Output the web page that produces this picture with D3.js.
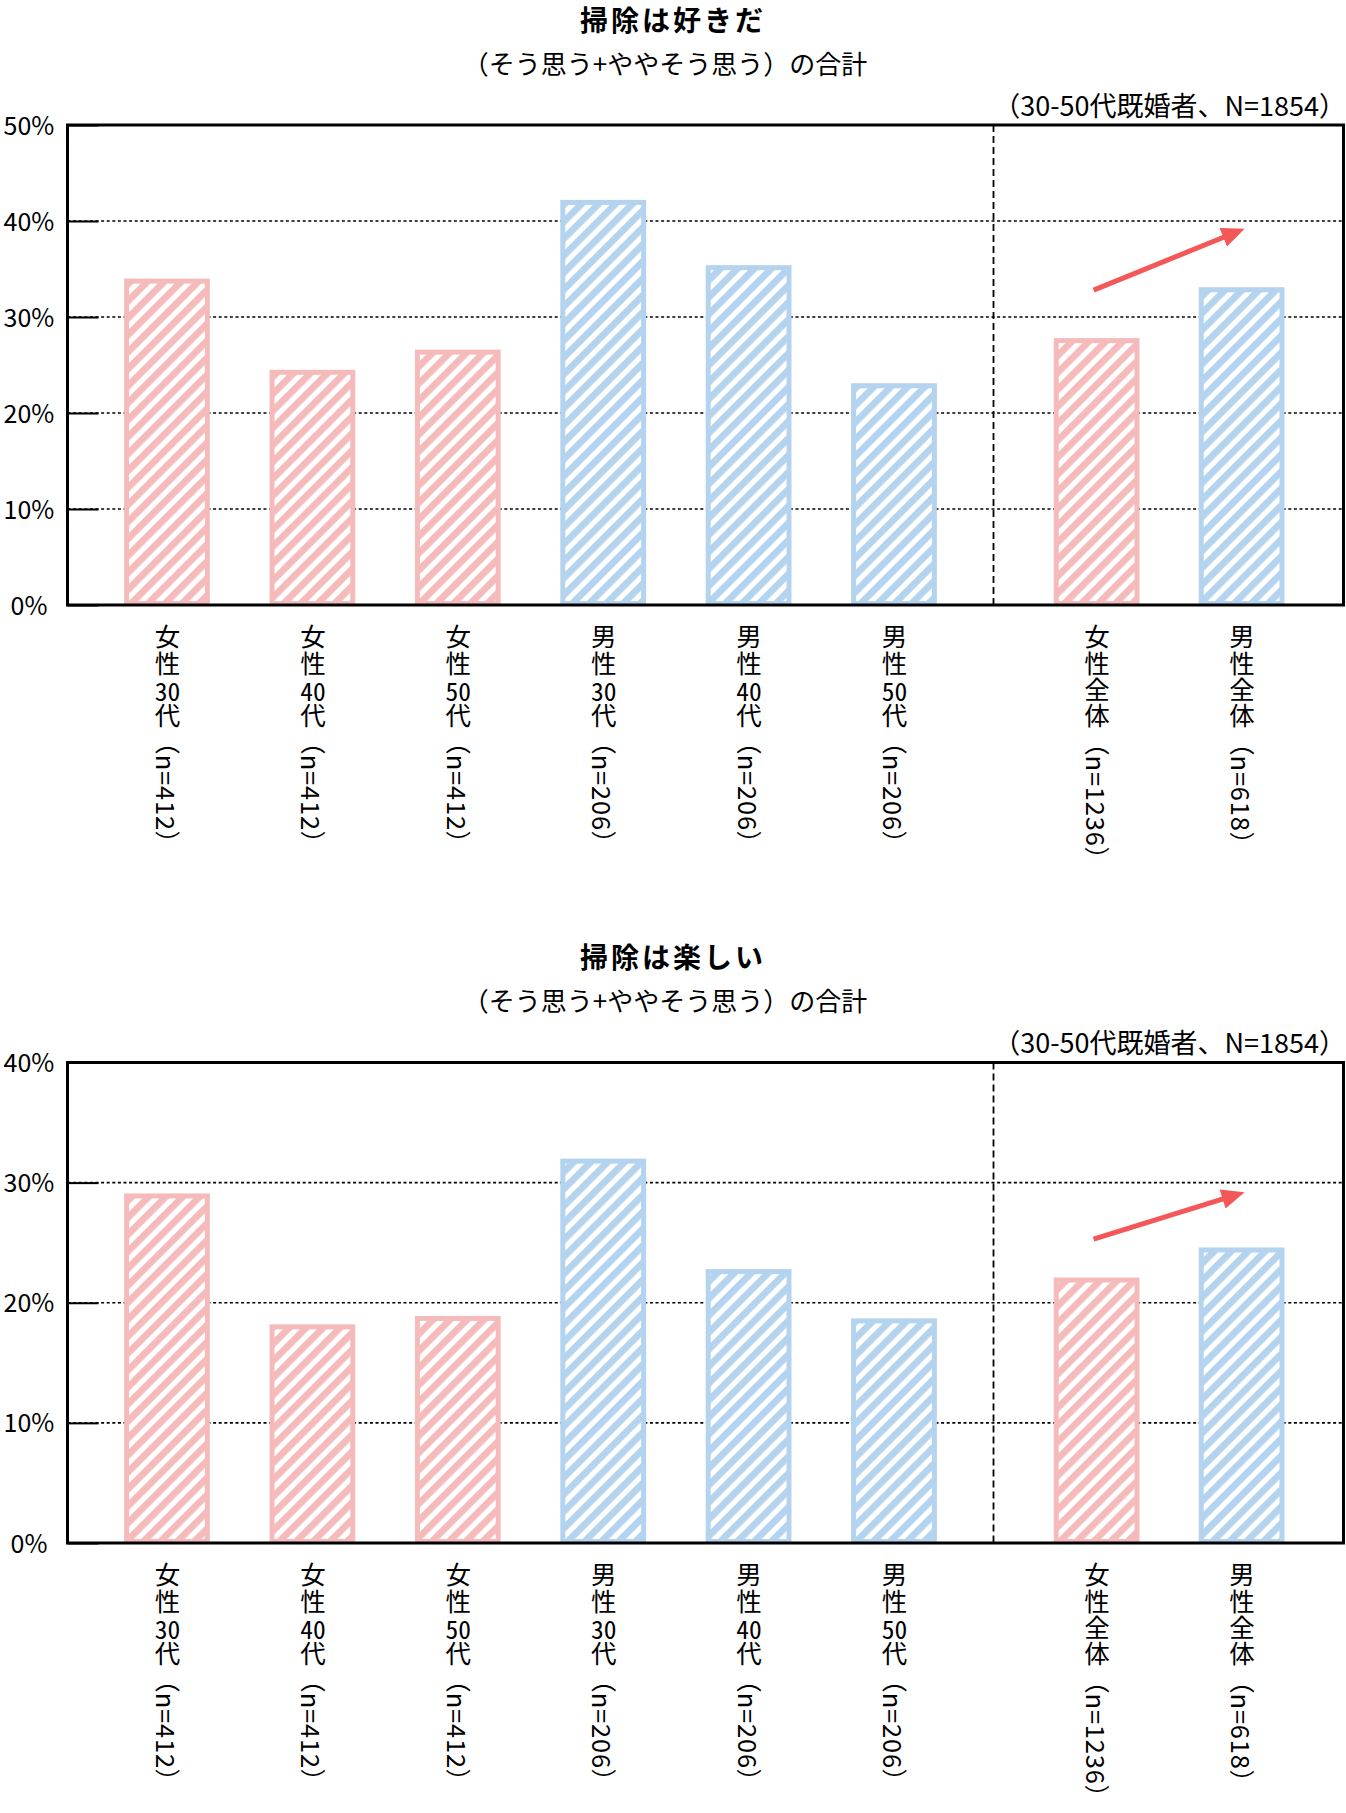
<!DOCTYPE html>
<html><head><meta charset="utf-8">
<script src="https://cdn.jsdelivr.net/npm/d3@7"></script>
<style>
body{margin:0;background:#fff;position:relative;width:1346px;height:1813px}
svg{display:block;position:absolute;left:0;top:0}
text{font-family:"Noto Sans CJK JP","Noto Sans",sans-serif;fill:#000}
.vlab{position:absolute;writing-mode:vertical-rl;font-family:"Noto Sans CJK JP","Noto Sans",sans-serif;
  font-size:25.5px;line-height:30px;width:30px;white-space:nowrap;color:#000;letter-spacing:0.8px}
.tcy{text-combine-upright:all}
</style>
</head><body>
<svg id="chart" width="1346" height="1813"></svg>
<script>
// ---------- data ----------
const categories = ["女性30代","女性40代","女性50代","男性30代","男性40代","男性50代","女性全体","男性全体"];
const sampleSizes = ["412","412","412","206","206","206","1236","618"];
const genders = ["F","F","F","M","M","M","F","M"];
const leftGroup = categories.slice(0, 6);
const rightGroup = categories.slice(6);

const likeValues  = [34.0, 24.5, 26.6, 42.2, 35.4, 23.1, 27.8, 33.1];
const enjoyValues = [29.1, 18.2, 18.9, 32.0, 22.8, 18.7, 22.1, 24.6];

const likeTicks  = [0, 10, 20, 30, 40, 50];
const enjoyTicks = [0, 10, 20, 30, 40];

const likeTitle  = "掃除は好きだ";
const enjoyTitle = "掃除は楽しい";
const subtitleText = "（そう思う+ややそう思う）の合計";
const noteText = "（30-50代既婚者、N=1854）";

// trend arrows (value units, from 女性全体 to 男性全体)
const likeArrow  = {from: ["女性全体", 32.8], to: ["男性全体", 39.2]};
const enjoyArrow = {from: ["女性全体", 25.3], to: ["男性全体", 29.2]};

// ---------- style ----------
const pink = "#F5BBBB", blue = "#B4D3EE", arrowColor = "#F45757";
const W = 1346;
const plotLeft = 67.5, plotRight = 1343.5, dividerX = 993.5;
const FONT = '"Noto Sans CJK JP","Noto Sans",sans-serif';

const svg = d3.select("#chart");
const defs = svg.append("defs");
[["hatchF", pink], ["hatchM", blue]].forEach(([id, col]) => {
  const p = defs.append("pattern").attr("id", id)
    .attr("patternUnits", "userSpaceOnUse")
    .attr("width", 12).attr("height", 12)
    .attr("patternTransform", "rotate(45)");
  p.append("rect").attr("width", 12).attr("height", 12).attr("fill", "#fff");
  p.append("rect").attr("width", 6.8).attr("height", 12).attr("fill", col);
});

const xLeft = d3.scaleBand().domain(leftGroup).range([94.3, 966.7]).paddingInner(0.41).paddingOuter(0.205);
const xRight = d3.scaleBand().domain(rightGroup).range([1024, 1314]).paddingInner(0.41).paddingOuter(0.205);
const xPos = c => leftGroup.includes(c) ? xLeft(c) : xRight(c);
const bw = xLeft.bandwidth();
const xCenter = c => xPos(c) + bw / 2;

function drawChart(cfg) {
  const g = svg.append("g");
  const y = d3.scaleLinear().domain([0, d3.max(cfg.ticks)]).range([cfg.bottom, cfg.top]);

  // titles
  g.append("text").attr("x", W / 2).attr("y", cfg.titleY)
    .attr("text-anchor", "middle").attr("dominant-baseline", "central")
    .attr("font-size", 28).attr("font-weight", "bold").attr("letter-spacing", 3)
    .text(cfg.title);
  g.append("text").attr("x", W / 2 - 8).attr("y", cfg.subtitleY)
    .attr("text-anchor", "middle").attr("dominant-baseline", "central")
    .attr("font-size", 26).text(subtitleText);
  g.append("text").attr("x", 1346).attr("y", cfg.noteY)
    .attr("text-anchor", "end").attr("dominant-baseline", "central")
    .attr("font-size", 27).text(noteText);

  // gridlines
  g.append("g").selectAll("line").data(cfg.ticks.filter(t => t > 0 && t < d3.max(cfg.ticks)))
    .join("line")
    .attr("x1", plotLeft).attr("x2", plotRight)
    .attr("y1", d => y(d)).attr("y2", d => y(d))
    .attr("stroke", "#000").attr("stroke-width", 1.7).attr("stroke-dasharray", "3,2.6");

  // divider
  g.append("line").attr("x1", dividerX).attr("x2", dividerX)
    .attr("y1", cfg.top).attr("y2", cfg.bottom)
    .attr("stroke", "#000").attr("stroke-width", 1.8).attr("stroke-dasharray", "7,4");

  // bars
  g.append("g").selectAll("rect").data(categories.map((c, i) => ({c, v: cfg.values[i], gnd: genders[i]})))
    .join("rect")
    .attr("x", d => xPos(d.c) + 2.5)
    .attr("width", bw - 5)
    .attr("y", d => y(d.v) + 2.5)
    .attr("height", d => y(0) - y(d.v) - 4)
    .attr("fill", d => d.gnd === "F" ? "url(#hatchF)" : "url(#hatchM)")
    .attr("stroke", d => d.gnd === "F" ? pink : blue)
    .attr("stroke-width", 5);

  // y axis (inside ticks)
  const ax = g.append("g").attr("transform", `translate(${plotLeft},0)`)
    .call(d3.axisLeft(y).tickValues(cfg.ticks).tickSize(-31).tickFormat(d => d + "%"));
  ax.select(".domain").remove();
  ax.selectAll(".tick line").attr("stroke", "#000").attr("stroke-width", 2);
  ax.selectAll(".tick text").attr("x", -38.5).attr("text-anchor", "middle")
    .attr("font-size", 25).attr("font-family", FONT).attr("fill", "#000")
    .attr("dy", "0.36em");

  // frame
  g.append("rect").attr("x", plotLeft).attr("y", cfg.top)
    .attr("width", plotRight - plotLeft).attr("height", cfg.bottom - cfg.top)
    .attr("fill", "none").attr("stroke", "#000").attr("stroke-width", 3);

  // arrow
  const x1 = xCenter(cfg.arrow.from[0]) - 3, y1 = y(cfg.arrow.from[1]);
  const x2 = xCenter(cfg.arrow.to[0]) + 3, y2 = y(cfg.arrow.to[1]);
  const ang = Math.atan2(y2 - y1, x2 - x1);
  const headL = 23, headW = 20;
  const bx = x2 - headL * Math.cos(ang), by = y2 - headL * Math.sin(ang);
  g.append("line").attr("x1", x1).attr("y1", y1)
    .attr("x2", bx + 3 * Math.cos(ang)).attr("y2", by + 3 * Math.sin(ang))
    .attr("stroke", arrowColor).attr("stroke-width", 5);
  const px = -Math.sin(ang) * headW / 2, py = Math.cos(ang) * headW / 2;
  g.append("polygon")
    .attr("points", [[x2, y2], [bx + px, by + py], [bx - px, by - py]].map(p => p.join(",")).join(" "))
    .attr("fill", arrowColor);

  // category labels (vertical writing)
  const off = 32;
  categories.forEach((c, i) => {
    const cx = xCenter(c);
    const lab = d3.select("body").append("div").attr("class", "vlab")
      .style("left", (cx - 15) + "px")
      .style("top", (cfg.bottom + off - 13) + "px");
    c.match(/\d+|\D/g).forEach(tk => {
      const s = lab.append("span").text(tk);
      if (/\d/.test(tk)) s.attr("class", "tcy");
    });
    lab.append("span").style("letter-spacing", "0.8px").text("（n=" + sampleSizes[i] + "）");
  });
}

drawChart({title: likeTitle, values: likeValues, ticks: likeTicks, arrow: likeArrow,
  top: 125, bottom: 605, titleY: 19, subtitleY: 62, noteY: 104});
drawChart({title: enjoyTitle, values: enjoyValues, ticks: enjoyTicks, arrow: enjoyArrow,
  top: 1062.5, bottom: 1543, titleY: 956, subtitleY: 999, noteY: 1041});
</script>
</body></html>
